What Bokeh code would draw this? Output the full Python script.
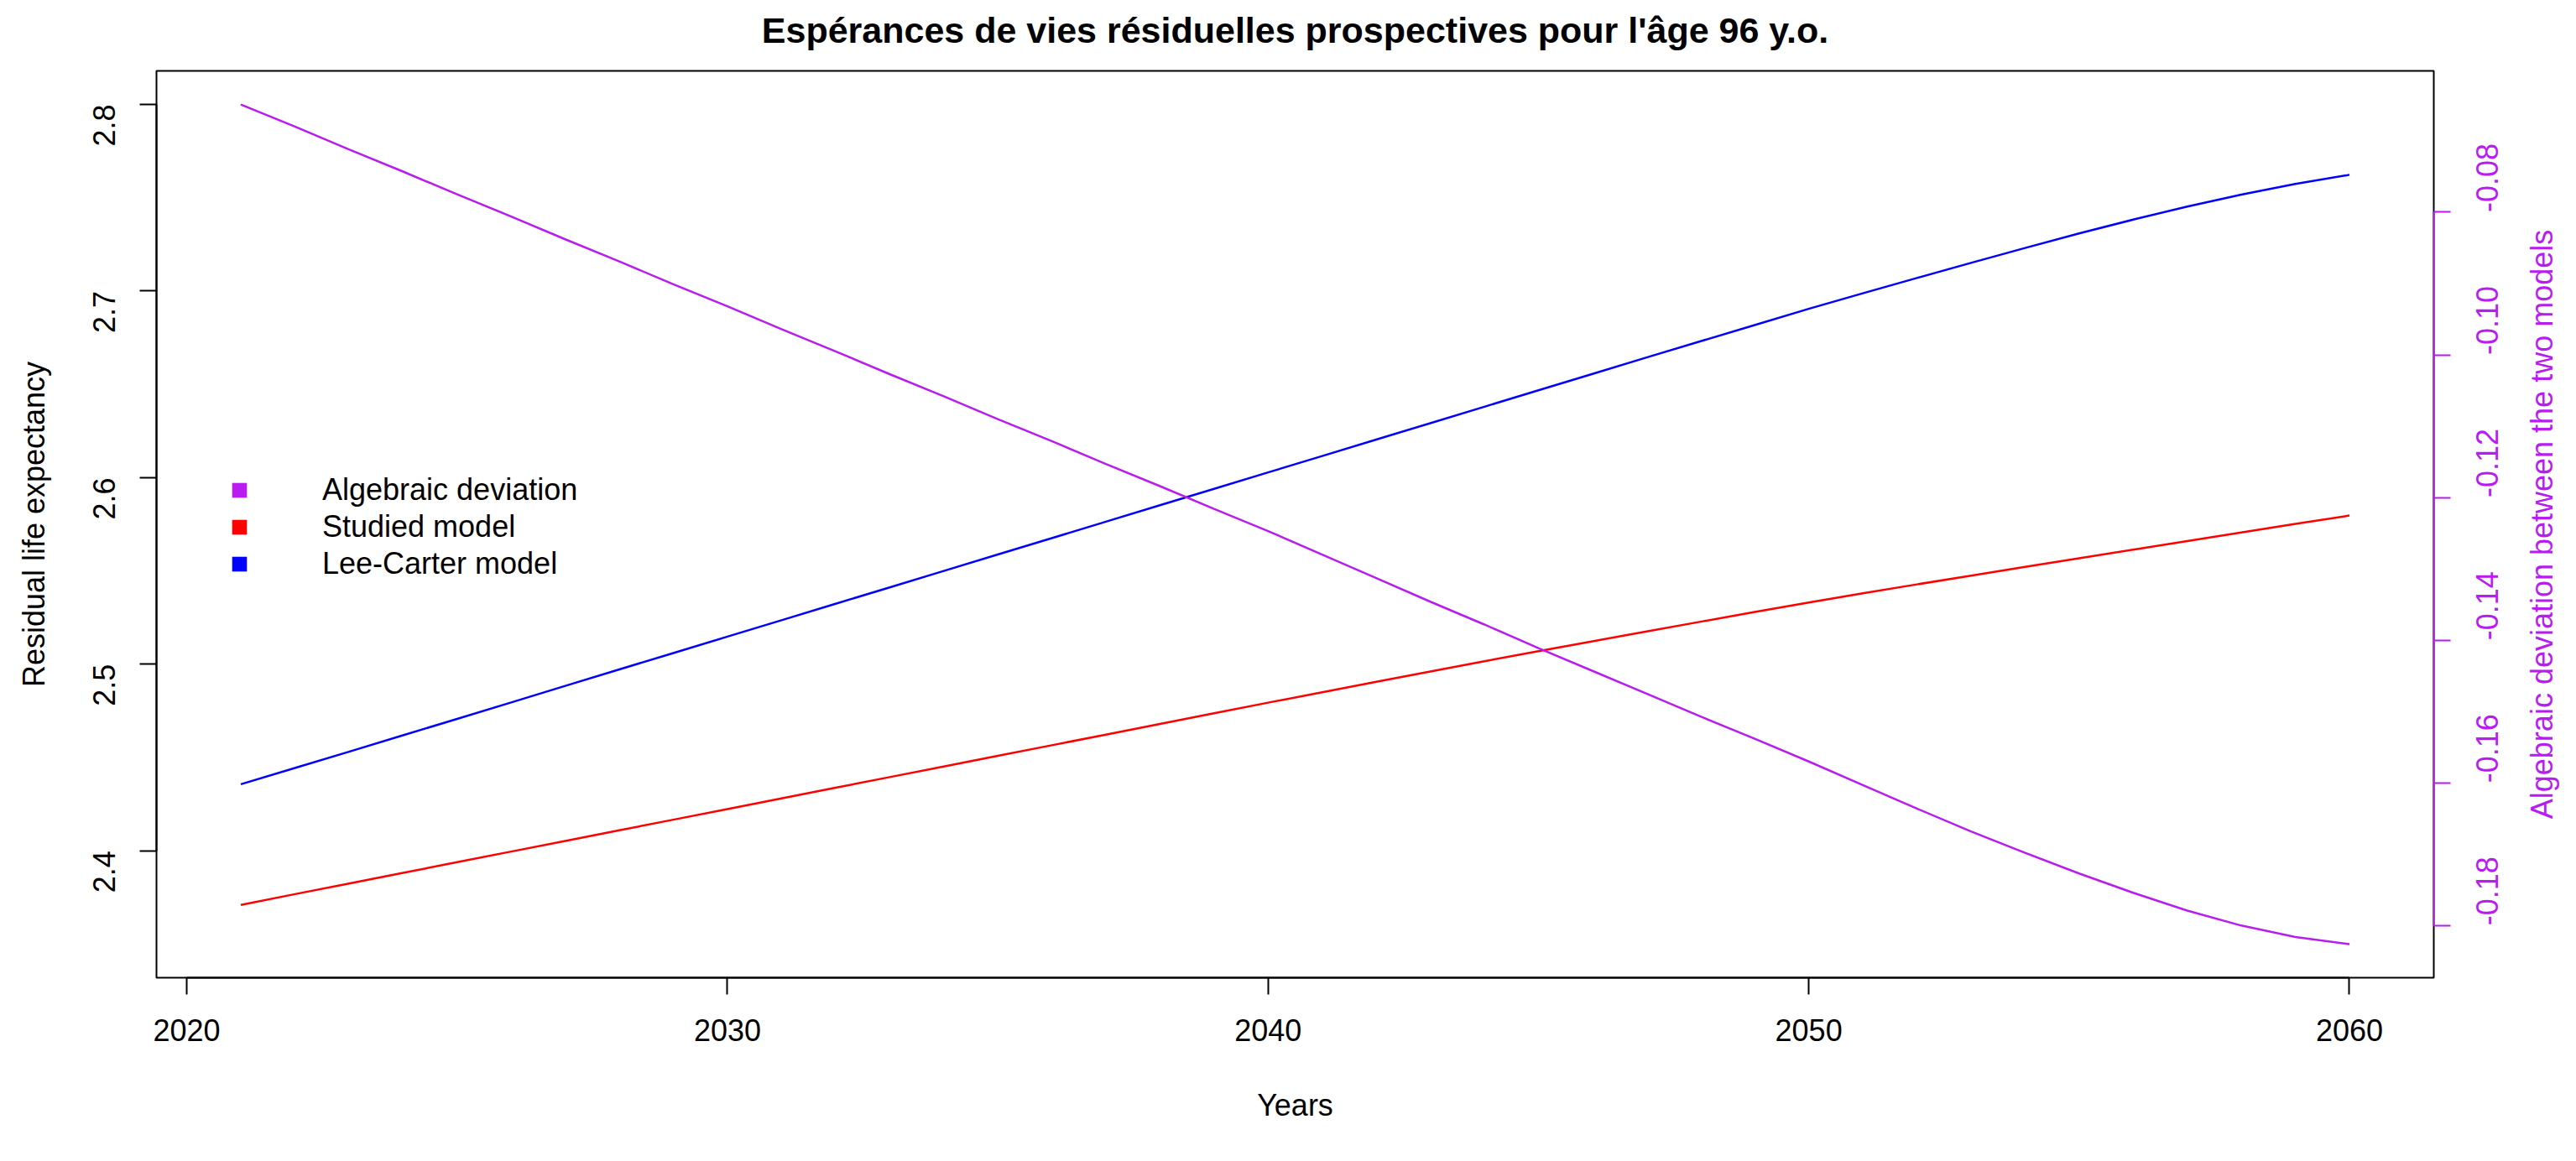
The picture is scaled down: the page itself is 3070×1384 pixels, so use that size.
import math
from bokeh.plotting import figure
from bokeh.layouts import row
from bokeh.models import (Range1d, LinearAxis, FixedTicker, PrintfTickFormatter,
                          Legend, LegendItem)
from bokeh.embed import file_html
from bokeh.resources import INLINE

# ---------------- data ----------------
years = list(range(2021, 2061))

lee_carter = [2.4357, 2.4444, 2.4531, 2.4619, 2.4707, 2.4795, 2.4884, 2.4972, 2.5060, 2.5148,
              2.5236, 2.5324, 2.5412, 2.5500, 2.5588, 2.5676, 2.5764, 2.5852, 2.5940, 2.6028,
              2.6116, 2.6204, 2.6292, 2.6380, 2.6468, 2.6556, 2.6644, 2.6731, 2.6818, 2.6905,
              2.6988, 2.7070, 2.7151, 2.7231, 2.7309, 2.7383, 2.7453, 2.7517, 2.7574, 2.7623]

studied = [2.3710, 2.3768, 2.3825, 2.3882, 2.3939, 2.3996, 2.4053, 2.4110, 2.4167, 2.4224,
           2.4281, 2.4338, 2.4395, 2.4452, 2.4509, 2.4566, 2.4623, 2.4680, 2.4737, 2.4794,
           2.4850, 2.4906, 2.4961, 2.5016, 2.5070, 2.5123, 2.5176, 2.5228, 2.5280, 2.5331,
           2.5380, 2.5428, 2.5475, 2.5522, 2.5568, 2.5614, 2.5660, 2.5706, 2.5752, 2.5797]

deviation = [-0.0649, -0.0680, -0.0712, -0.0743, -0.0775, -0.0806, -0.0838, -0.0869, -0.0901, -0.0932,
             -0.0964, -0.0995, -0.1027, -0.1058, -0.1090, -0.1121, -0.1153, -0.1184, -0.1216, -0.1247,
             -0.1280, -0.1313, -0.1346, -0.1378, -0.1411, -0.1443, -0.1475, -0.1507, -0.1538, -0.1570,
             -0.1603, -0.1636, -0.1668, -0.1698, -0.1727, -0.1754, -0.1779, -0.1800, -0.1816, -0.1826]

x_ticks = [2020, 2030, 2040, 2050, 2060]
left_ticks = [2.4, 2.5, 2.6, 2.7, 2.8]
right_ticks = [-0.18, -0.16, -0.14, -0.12, -0.10, -0.08]

title_text = "Espérances de vies résiduelles prospectives pour l'âge 96 y.o."
x_title = "Years"
left_title = "Residual life expectancy"
right_title = "Algebraic deviation between the two models"
legend_labels = ["Algebraic deviation", "Studied model", "Lee-Carter model"]

# ---------------- styles ----------------
FONT = "Liberation Sans"
FS = "36px"
PURPLE = "#B81CF0"
BLUE = "#0000FF"
RED = "#FF0000"
LW = 2.5

p = figure(width=3006, height=1368, output_backend="svg", toolbar_location=None,
           x_range=Range1d(2019.44, 2061.56), y_range=Range1d(2.332, 2.818),
           min_border_left=186, min_border_right=106, min_border_top=84, min_border_bottom=203)
p.extra_y_ranges = {"dev": Range1d(-0.18731, -0.06019)}

p.xgrid.visible = False
p.ygrid.visible = False
p.outline_line_color = "black"
p.outline_line_width = 2
p.background_fill_color = "white"
p.border_fill_color = "white"

def style_axis(ax, color, tick_std, label_std):
    ax.axis_line_color = color
    ax.axis_line_width = 2
    ax.major_tick_line_color = color
    ax.major_tick_line_width = 2
    ax.major_tick_out = 20
    ax.major_tick_in = 0
    ax.minor_tick_line_color = None
    ax.major_label_text_font = FONT
    ax.major_label_text_font_size = FS
    ax.major_label_text_color = color
    ax.axis_label_text_font = FONT
    ax.axis_label_text_font_size = FS
    ax.axis_label_text_font_style = "normal"
    ax.axis_label_text_color = color
    ax.major_label_standoff = tick_std
    ax.axis_label_standoff = label_std

def label_only(ax, color, label_std):
    style_axis(ax, color, 0, label_std)
    ax.ticker = FixedTicker(ticks=[])
    ax.axis_line_color = None
    ax.major_tick_line_color = None
    ax.major_tick_out = 0

xa = p.below[0]
xa.ticker = FixedTicker(ticks=x_ticks)
xa.formatter = PrintfTickFormatter(format="%d")
xa.axis_label = x_title
xa.bounds = (x_ticks[0], x_ticks[-1])
style_axis(xa, "black", 29, 53)

ya = p.left[0]
ya.ticker = FixedTicker(ticks=left_ticks)
ya.formatter = PrintfTickFormatter(format="%.1f")
ya.axis_label = left_title
ya.bounds = (left_ticks[0], left_ticks[-1])
ya.major_label_orientation = math.pi / 2
style_axis(ya, "black", 42, 35)

ra = LinearAxis(y_range_name="dev")
ra.ticker = FixedTicker(ticks=right_ticks)
ra.formatter = PrintfTickFormatter(format="%.2f")
ra.bounds = (right_ticks[0], right_ticks[-1])
ra.major_label_orientation = math.pi / 2
style_axis(ra, PURPLE, 44, 19)
p.add_layout(ra, "right")

# title, drawn as the label of a tick-less top axis (centred on the frame)
top = LinearAxis(axis_label=title_text)
label_only(top, "black", 25)
top.axis_label_text_font_size = "43px"
top.axis_label_text_font_style = "bold"
p.add_layout(top, "above")

# ---------------- lines ----------------
p.line(years, lee_carter, line_color=BLUE, line_width=LW)
p.line(years, studied, line_color=RED, line_width=LW)
p.line(years, deviation, line_color=PURPLE, line_width=LW, y_range_name="dev")

# ---------------- legend ----------------
nan = float("nan")
lg_p = p.scatter(x=[nan], y=[nan], marker="square", fill_color=PURPLE, line_color=None)
lg_r = p.scatter(x=[nan], y=[nan], marker="square", fill_color=RED, line_color=None)
lg_b = p.scatter(x=[nan], y=[nan], marker="square", fill_color=BLUE, line_color=None)
legend = Legend(items=[LegendItem(label=legend_labels[0], renderers=[lg_p]),
                       LegendItem(label=legend_labels[1], renderers=[lg_r]),
                       LegendItem(label=legend_labels[2], renderers=[lg_b])],
                location=(77, 471), orientation="vertical",
                glyph_width=44, glyph_height=44, label_height=40, spacing=-1,
                label_standoff=77, padding=0, margin=0,
                border_line_color=None, background_fill_alpha=0,
                label_text_font=FONT, label_text_font_size=FS, label_text_color="black")
p.add_layout(legend, "center")

# ---------------- right-hand title strip (reads bottom-to-top, centred) ----------------
q = figure(width=48, height=1368, output_backend="svg", toolbar_location=None,
           x_range=Range1d(0, 1), y_range=Range1d(-0.18731, -0.06019),
           min_border_left=44, min_border_right=0, min_border_top=84, min_border_bottom=203)
q.xaxis.visible = False
q.xgrid.visible = False
q.ygrid.visible = False
q.outline_line_color = None
q.background_fill_color = "white"
q.border_fill_color = "white"
qa = q.left[0]
qa.axis_label = right_title
label_only(qa, PURPLE, 5)

layout = row(p, q, spacing=0)

open("out.html", "w").write(file_html(layout, INLINE))
